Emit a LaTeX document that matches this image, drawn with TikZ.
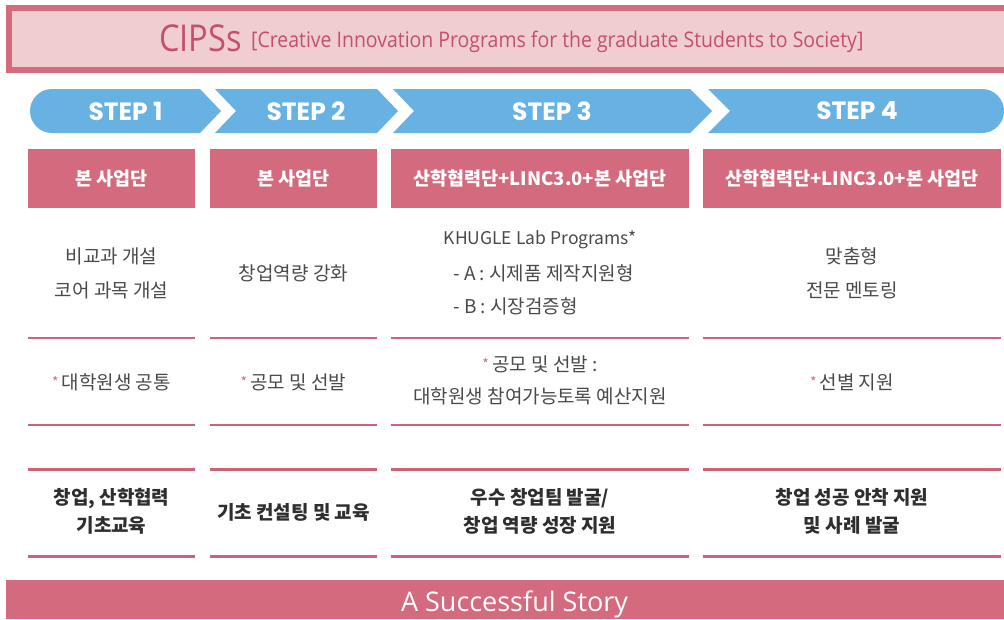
\documentclass[tikz,border=0pt]{standalone}
\usepackage{fontspec}
\setmainfont{Noto Sans CJK KR}
\newfontfamily\titlefont[FakeStretch=0.88]{Open Sans}
\newfontfamily\subtitlefont[FakeStretch=0.905]{Open Sans}
\newfontfamily\storyfont{Open Sans}
\newfontfamily\stepfont{Poppins}
\definecolor{pk}{HTML}{D36A7E}
\definecolor{pkline}{HTML}{CF6279}
\definecolor{lpk}{HTML}{F0CDD1}
\definecolor{ttl}{HTML}{C4506B}
\definecolor{bl}{HTML}{67B2E3}
\definecolor{tx}{HTML}{4A4A4A}
\definecolor{btx}{HTML}{2E2E2E}
\tikzset{
  chev/.style={fill=bl, draw=none},
  steplabel/.style={text=white, font=\stepfont\bfseries\fontsize{25}{25}\selectfont, inner sep=0pt},
  headbox/.style={fill=pk, draw=none, minimum height=59pt, inner sep=0pt, text=white, font=\bfseries\fontsize{18.5}{20}\selectfont},
  bodytext/.style={text=tx, font=\fontsize{19}{34}\selectfont, align=center, inner sep=0pt},
  boldtext/.style={text=btx, font=\bfseries\fontsize{19}{28}\selectfont, align=center, inner sep=0pt},
  sepline/.style={draw=pkline, line width=2.5pt},
  sepbold/.style={draw=pkline, line width=3pt},
}
\newcommand{\pkast}{{\color{pk}\fontsize{14}{14}\selectfont\raisebox{2pt}{*}}\,}
\begin{document}
\begin{tikzpicture}[x=1pt,y=-1pt]
\useasboundingbox (0,0) rectangle (1004,619);
\fill[white] (0,0) rectangle (1004,619);
% title
\draw[fill=lpk, draw=pk, line width=6pt] (9,8) rectangle (1012,69.5);
\node[anchor=base west, inner sep=0pt, text=ttl, font=\titlefont\fontsize{37}{37}\selectfont] (cips) at (159,51.5) {CIPSs};
\node[anchor=base west, inner sep=0pt, text=ttl, font=\subtitlefont\fontsize{21.5}{21.5}\selectfont] (cipsfull) at (251,47.5) {[Creative Innovation Programs for the graduate Students to Society]};
% steps
\fill[chev] (52,89) -- (200,89) -- (221,111) -- (200,133) -- (52,133) arc[start angle=90, end angle=270, radius=22] -- cycle;
\fill[chev] (215,89) -- (377,89) -- (398,111) -- (377,133) -- (215,133) -- (236,111) -- cycle;
\fill[chev] (393,89) -- (690,89) -- (712,111) -- (690,133) -- (393,133) -- (414,111) -- cycle;
\fill[chev] (708,89) -- (982,89) arc[start angle=-90, end angle=90, radius=22] -- (708,133) -- (730,111) -- cycle;
\node[steplabel] (s1) at (125.5,111) {STEP 1};
\node[steplabel] (s2) at (306,111) {STEP 2};
\node[steplabel] (s3) at (552,111) {STEP 3};
\node[steplabel] (s4) at (857,111) {STEP 4};
% header boxes
\node[headbox, minimum width=167pt] (h1) at (111.5,178.5) {본 사업단};
\node[headbox, minimum width=167pt] (h2) at (293.5,178.5) {본 사업단};
\node[headbox, minimum width=298pt] (h3) at (540,178.5) {산학협력단+LINC3.0+본 사업단};
\node[headbox, minimum width=298pt] (h4) at (852,178.5) {산학협력단+LINC3.0+본 사업단};
% row 1
\node[bodytext] (r1a) at (111.5,273) {비교과 개설\\코어 과목 개설};
\node[bodytext] (r1b) at (293.5,273) {창업역량 강화};
\node[bodytext, font=\fontsize{17.5}{34}\selectfont] (r1c1) at (540,240) {KHUGLE Lab Programs*};
\node[bodytext, anchor=west] (r1c2) at (453,273) {- A : 시제품 제작지원형};
\node[bodytext, anchor=west] (r1c3) at (453,306) {- B : 시장검증형};
\node[bodytext] (r1d) at (852,273) {맞춤형\\전문 멘토링};
% row 2
\node[bodytext] (r2a) at (111.5,382) {\pkast 대학원생 공통};
\node[bodytext] (r2b) at (293.5,382) {\pkast 공모 및 선발};
\node[bodytext, font=\fontsize{19}{32}\selectfont] (r2c) at (540,380) {\pkast 공모 및 선발 :\\대학원생 참여가능토록 예산지원};
\node[bodytext] (r2d) at (852,382) {\pkast 선별 지원};
% row 3
\node[boldtext] (r3a) at (111.5,511) {창업, 산학협력\\기초교육};
\node[boldtext] (r3b) at (293.5,512) {기초 컨설팅 및 교육};
\node[boldtext] (r3c) at (540,511) {우수 창업팀 발굴/\\창업 역량 성장 지원};
\node[boldtext] (r3d) at (852,511) {창업 성공 안착 지원\\및 사례 발굴};
% separator lines
\foreach \xa/\xb in {28/195, 210/377, 391/689, 703/1001} {
  \draw[sepline] (\xa,338) -- (\xb,338);
  \draw[sepline] (\xa,425) -- (\xb,425);
  \draw[sepbold] (\xa,469.5) -- (\xb,469.5);
  \draw[sepbold] (\xa,556.5) -- (\xb,556.5);
}
% bottom band
\fill[pk] (6,580) rectangle (1004,619);
\node[inner sep=0pt, text=white, font=\storyfont\fontsize{27}{27}\selectfont, anchor=base] (story) at (514.5,611) {A Successful Story};
\end{tikzpicture}
\end{document}
